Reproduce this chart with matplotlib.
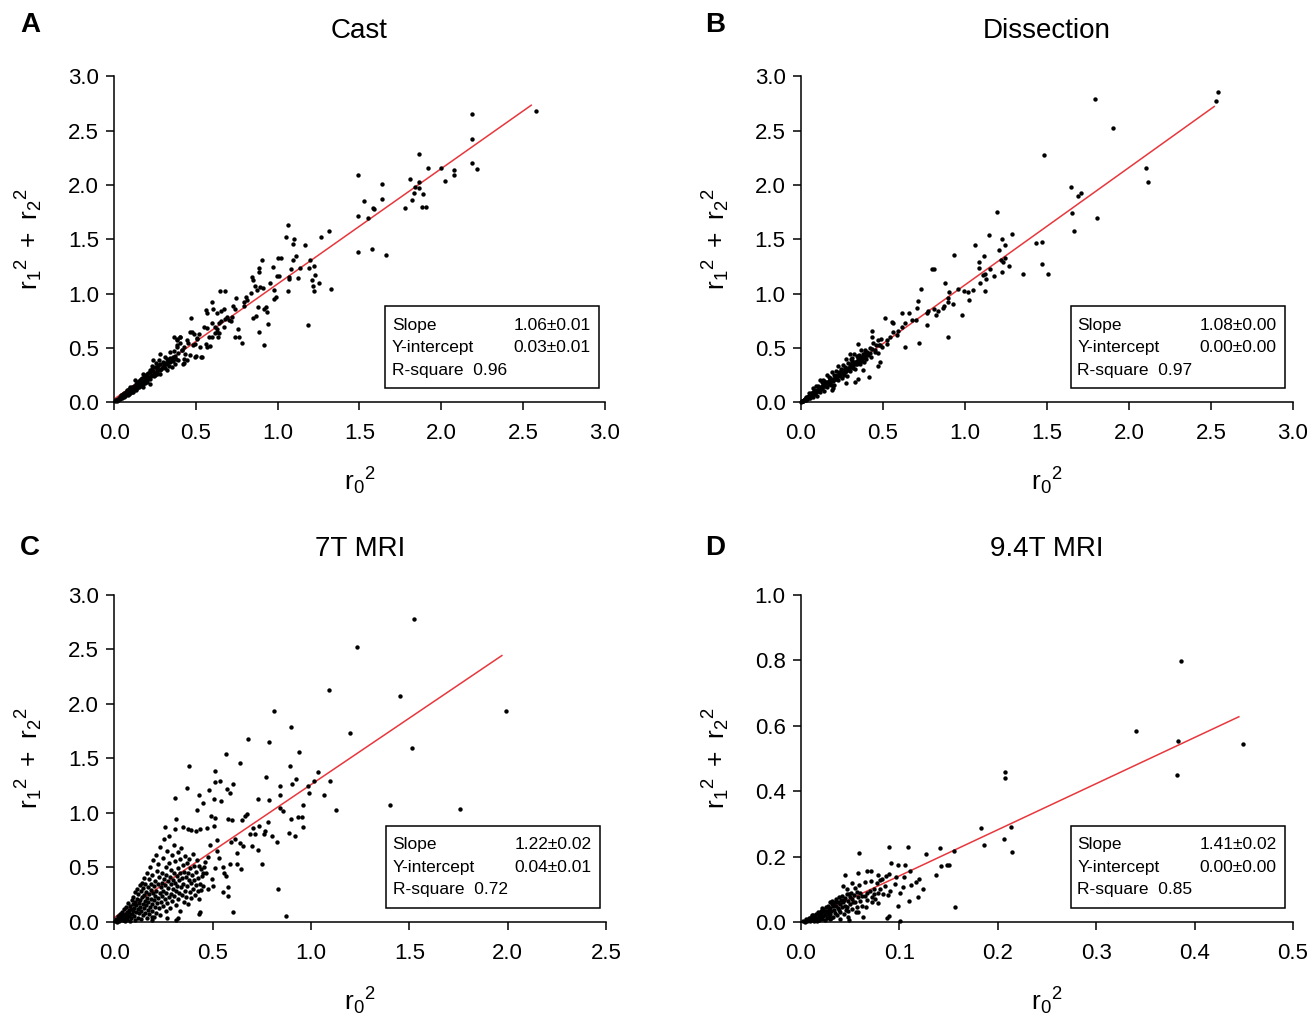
import numpy as np
import matplotlib
matplotlib.use("Agg")
import matplotlib.pyplot as plt
from matplotlib.patches import Rectangle

plt.rcParams.update({
    "font.family": ["Liberation Sans", "DejaVu Sans"],
    "mathtext.fontset": "custom",
    "mathtext.rm": "Liberation Sans",
    "mathtext.it": "Liberation Sans",
})

# ---------------------------------------------------------------- data
# (r0^2, r1^2 + r2^2) pairs
cast_points = [
    # dense part near the origin
    (0.005, 0.01), (0.012, 0.021), (0.016, 0.009), (0.021, 0.032), (0.026, 0.018), (0.031, 0.043),
    (0.036, 0.028), (0.041, 0.052), (0.039, 0.063), (0.046, 0.038), (0.052, 0.072), (0.049, 0.049),
    (0.057, 0.061), (0.061, 0.083), (0.063, 0.052), (0.066, 0.071), (0.072, 0.094), (0.069, 0.058),
    (0.076, 0.082), (0.081, 0.104), (0.083, 0.068), (0.086, 0.092), (0.091, 0.122), (0.093, 0.081),
    (0.097, 0.103), (0.102, 0.134), (0.099, 0.088), (0.106, 0.113), (0.112, 0.143), (0.109, 0.098),
    (0.116, 0.124), (0.121, 0.153), (0.118, 0.108), (0.126, 0.142), (0.131, 0.173), (0.133, 0.117),
    (0.136, 0.143), (0.142, 0.184), (0.138, 0.128), (0.147, 0.163), (0.151, 0.194), (0.153, 0.137),
    (0.156, 0.172), (0.162, 0.213), (0.158, 0.148), (0.166, 0.183), (0.171, 0.224), (0.173, 0.158),
    (0.176, 0.193), (0.182, 0.232), (0.178, 0.168), (0.186, 0.204), (0.192, 0.252), (0.188, 0.177),
    (0.197, 0.213), (0.202, 0.263), (0.199, 0.188), (0.211, 0.232), (0.208, 0.274), (0.222, 0.218),
    (0.218, 0.283), (0.231, 0.253), (0.229, 0.304), (0.242, 0.238), (0.238, 0.292), (0.251, 0.272),
    (0.248, 0.324), (0.262, 0.258), (0.259, 0.313), (0.271, 0.293), (0.268, 0.343), (0.282, 0.302),
    (0.279, 0.354), (0.291, 0.313), (0.302, 0.334), (0.298, 0.372), (0.311, 0.318), (0.309, 0.363),
    (0.322, 0.352), (0.331, 0.384), (0.333, 0.338), (0.342, 0.372), (0.351, 0.403), (0.362, 0.383),
    (0.372, 0.424), (0.381, 0.402), (0.014, 0.018), (0.035, 0.049), (0.055, 0.08), (0.076, 0.11),
    (0.096, 0.141), (0.117, 0.095), (0.127, 0.202), (0.137, 0.156), (0.157, 0.202),
    (0.178, 0.141), (0.178, 0.264), (0.198, 0.233), (0.219, 0.172), (0.219, 0.294),
    (0.239, 0.387), (0.25, 0.248), (0.26, 0.325), (0.28, 0.264), (0.28, 0.448),
    (0.30, 0.325), (0.311, 0.417), (0.321, 0.294), (0.331, 0.371), (0.342, 0.463),
    (0.352, 0.325), (0.362, 0.417), (0.372, 0.356), (0.382, 0.509), (0.382, 0.586),
    (0.393, 0.387), (0.40, 0.60), (0.413, 0.479), (0.423, 0.356), (0.434, 0.448),
    (0.444, 0.387), (0.444, 0.57), (0.464, 0.433), (0.474, 0.647), (0.485, 0.525),
    (0.495, 0.417), (0.505, 0.586), (0.536, 0.417), (0.56, 0.54), (0.566, 0.509),
    (0.597, 0.601), (0.628, 0.647), (0.669, 0.693), (0.70, 0.755),
    (0.403, 0.598), (0.366, 0.598), (0.382, 0.573), (0.403, 0.542), (0.454, 0.542),
    (0.427, 0.512), (0.382, 0.527), (0.413, 0.481), (0.393, 0.45), (0.429, 0.359),
    (0.427, 0.398), (0.499, 0.426), (0.532, 0.42), (0.47, 0.772), (0.464, 0.65),
    (0.491, 0.628), (0.505, 0.591), (0.517, 0.625), (0.497, 0.536), (0.525, 0.506),
    (0.044, 0.047), (0.064, 0.068), (0.084, 0.089), (0.104, 0.112), (0.124, 0.133),
    (0.144, 0.154), (0.164, 0.176), (0.184, 0.197), (0.204, 0.218), (0.224, 0.241),
    (0.244, 0.262), (0.264, 0.284), (0.284, 0.306), (0.304, 0.356), (0.324, 0.398),
    (0.344, 0.41), (0.364, 0.47), (0.234, 0.33), (0.254, 0.36), (0.274, 0.39),
    # middle
    (0.648, 1.027), (0.679, 1.027), (0.599, 0.922), (0.748, 0.956), (0.804, 0.965),
    (0.795, 0.92), (0.812, 0.94), (0.791, 0.886), (0.728, 0.886), (0.736, 0.855),
    (0.669, 0.855), (0.652, 0.837), (0.626, 0.824), (0.607, 0.858), (0.564, 0.849),
    (0.566, 0.818), (0.689, 0.788), (0.677, 0.763), (0.718, 0.781), (0.714, 0.748),
    (0.654, 0.748), (0.644, 0.726), (0.616, 0.696), (0.628, 0.671), (0.599, 0.726),
    (0.566, 0.68), (0.552, 0.696), (0.617, 0.64), (0.64, 0.64), (0.638, 0.604),
    (0.736, 0.604), (0.761, 0.604), (0.783, 0.549), (0.757, 0.674), (0.577, 0.604),
    (0.583, 0.521),
    (1.018, 1.33), (1.002, 1.33), (0.971, 1.247), (0.996, 1.16), (1.008, 1.158),
    (0.953, 1.10), (0.902, 1.31), (0.883, 1.232), (0.885, 1.20), (0.845, 1.155),
    (0.849, 1.128), (0.894, 1.063), (0.912, 1.048), (0.859, 1.07), (0.873, 1.036),
    (0.838, 1.008), (0.975, 1.033), (0.987, 0.965), (0.98, 0.947), (0.928, 0.88),
    (0.914, 0.855), (0.935, 0.83), (0.877, 0.88), (0.865, 0.794), (0.85, 0.78),
    (0.94, 0.717), (0.883, 0.644), (0.918, 0.524),
    (1.06, 1.63), (1.053, 1.517), (1.10, 1.50), (1.094, 1.456), (1.166, 1.45),
    (1.266, 1.517), (1.313, 1.58), (1.112, 1.35), (1.094, 1.31), (1.20, 1.305),
    (1.135, 1.24), (1.19, 1.24), (1.082, 1.223), (1.221, 1.253), (1.072, 1.15),
    (1.125, 1.143), (1.07, 1.134), (1.231, 1.17), (1.21, 1.125), (1.254, 1.10),
    (1.215, 1.067), (1.221, 1.024), (1.061, 1.024), (1.323, 1.045), (1.188, 0.711),
    # upper part
    (1.49, 2.09), (1.64, 2.01), (1.527, 1.85), (1.64, 1.87), (1.58, 1.79), (1.59, 1.78),
    (1.49, 1.71), (1.55, 1.695), (1.49, 1.38), (1.577, 1.41), (1.665, 1.355),
    (1.865, 2.28), (1.92, 2.16), (2.00, 2.16), (2.075, 2.14), (2.075, 2.09), (2.02, 2.04),
    (1.81, 2.05), (1.84, 1.98), (1.865, 2.03), (1.865, 1.97), (1.835, 1.93), (1.89, 1.92),
    (1.82, 1.86), (1.88, 1.80), (1.905, 1.80), (1.78, 1.79),
    (2.577, 2.68), (2.19, 2.65), (2.19, 2.42), (2.19, 2.20), (2.22, 2.15),
]

dissection_points = [
    # dense band near the origin
    (0.007, 0.010), (0.012, 0.009), (0.016, 0.025), (0.021, 0.023), (0.025, 0.024), (0.029, 0.051),
    (0.033, 0.023), (0.038, 0.052), (0.042, 0.049), (0.046, 0.041), (0.051, 0.083), (0.055, 0.037),
    (0.059, 0.088), (0.063, 0.062), (0.067, 0.085), (0.071, 0.134), (0.076, 0.052), (0.080, 0.110),
    (0.084, 0.099), (0.088, 0.077), (0.092, 0.154), (0.097, 0.056), (0.101, 0.149), (0.105, 0.103),
    (0.109, 0.138), (0.114, 0.203), (0.118, 0.097), (0.122, 0.132), (0.126, 0.186), (0.131, 0.121),
    (0.135, 0.206), (0.139, 0.100), (0.143, 0.194), (0.148, 0.150), (0.152, 0.184), (0.156, 0.248),
    (0.160, 0.143), (0.165, 0.178), (0.169, 0.233), (0.173, 0.167), (0.177, 0.221), (0.182, 0.207),
    (0.186, 0.161), (0.190, 0.275), (0.194, 0.200), (0.199, 0.255), (0.203, 0.159), (0.207, 0.244),
    (0.211, 0.288), (0.216, 0.213), (0.220, 0.248), (0.224, 0.332), (0.228, 0.206), (0.233, 0.282),
    (0.237, 0.246), (0.241, 0.310), (0.246, 0.266), (0.250, 0.220), (0.254, 0.344), (0.258, 0.299),
    (0.263, 0.254), (0.267, 0.328), (0.271, 0.283), (0.275, 0.397), (0.280, 0.242), (0.284, 0.317),
    (0.288, 0.361), (0.292, 0.295), (0.297, 0.351), (0.301, 0.285), (0.305, 0.399), (0.309, 0.334),
    (0.314, 0.379), (0.318, 0.313), (0.322, 0.368), (0.326, 0.442), (0.331, 0.307), (0.335, 0.372),
    (0.339, 0.426), (0.343, 0.350), (0.348, 0.406), (0.352, 0.370), (0.356, 0.434), (0.361, 0.350),
    (0.365, 0.414), (0.369, 0.479), (0.373, 0.383), (0.378, 0.448), (0.382, 0.413), (0.386, 0.367),
    (0.390, 0.481), (0.395, 0.437), (0.399, 0.401), (0.404, 0.466), (0.411, 0.434), (0.418, 0.501),
    (0.426, 0.420), (0.433, 0.488), (0.441, 0.546), (0.449, 0.465), (0.458, 0.525), (0.467, 0.454),
    (0.476, 0.524), (0.486, 0.585), (0.496, 0.506),
    (0.003, 0.004), (0.009, 0.014), (0.014, 0.012), (0.018, 0.017), (0.023, 0.031), (0.027, 0.027),
    (0.031, 0.036), (0.036, 0.035), (0.040, 0.047), (0.044, 0.051), (0.048, 0.050), (0.053, 0.062),
    (0.057, 0.058), (0.061, 0.071), (0.065, 0.073), (0.069, 0.068), (0.074, 0.087), (0.078, 0.081),
    (0.082, 0.093), (0.086, 0.096), (0.090, 0.094), (0.095, 0.108), (0.099, 0.112), (0.103, 0.117),
    (0.107, 0.113), (0.112, 0.127), (0.116, 0.131), (0.120, 0.136), (0.124, 0.128), (0.128, 0.146),
    (0.133, 0.147), (0.137, 0.155), (0.141, 0.152), (0.146, 0.167), (0.150, 0.159), (0.154, 0.172),
    (0.158, 0.177), (0.163, 0.169), (0.167, 0.188), (0.171, 0.193), (0.175, 0.183), (0.180, 0.201),
    (0.184, 0.204), (0.188, 0.195), (0.196, 0.219), (0.205, 0.218), (0.214, 0.238), (0.222, 0.234),
    (0.231, 0.262), (0.239, 0.253), (0.248, 0.276), (0.256, 0.271), (0.265, 0.292), (0.273, 0.289),
    (0.282, 0.309), (0.290, 0.318), (0.299, 0.322), (0.307, 0.338), (0.316, 0.341), (0.324, 0.357),
    (0.333, 0.352), (0.341, 0.376), (0.350, 0.384), (0.358, 0.381), (0.367, 0.402), (0.375, 0.398),
    (0.384, 0.421), (0.392, 0.419),
    (0.193, 0.131), (0.189, 0.116), (0.275, 0.177), (0.329, 0.183), (0.35, 0.214),
    (0.415, 0.229), (0.378, 0.296), (0.472, 0.33), (0.482, 0.367), (0.311, 0.412),
    (0.299, 0.443), (0.35, 0.535), (0.39, 0.467), (0.421, 0.452), (0.451, 0.477),
    (0.482, 0.529), (0.472, 0.574), (0.431, 0.605), (0.431, 0.66), (0.523, 0.538),
    (0.523, 0.574),
    # middle
    (0.543, 0.605), (0.584, 0.62), (0.563, 0.651), (0.592, 0.66), (0.618, 0.697),
    (0.637, 0.727), (0.555, 0.742), (0.563, 0.727), (0.515, 0.779), (0.616, 0.819),
    (0.657, 0.819), (0.675, 0.758), (0.702, 0.758), (0.771, 0.715), (0.718, 0.55),
    (0.635, 0.507), (0.897, 0.599), (0.706, 0.865), (0.716, 0.935), (0.767, 0.819),
    (0.822, 0.804), (0.775, 0.843), (0.809, 0.855), (0.838, 0.843), (0.864, 0.865),
    (0.93, 0.901), (0.874, 0.889), (0.897, 0.926), (0.897, 0.959), (0.982, 0.807),
    (1.023, 0.941), (1.047, 1.033), (1.021, 1.017), (0.997, 1.027), (0.901, 1.017),
    (0.956, 1.039), (0.732, 1.039), (0.879, 1.094), (0.799, 1.225), (0.809, 1.225),
    (0.936, 1.357),
    (1.196, 1.748), (1.149, 1.543), (1.285, 1.549), (1.228, 1.50), (1.241, 1.448),
    (1.064, 1.451), (1.21, 1.399), (1.118, 1.344), (1.086, 1.295), (1.22, 1.305),
    (1.245, 1.326), (1.23, 1.295), (1.086, 1.234), (1.153, 1.222), (1.271, 1.25),
    (1.125, 1.185), (1.108, 1.17), (1.177, 1.164), (1.228, 1.195), (1.094, 1.094),
    (1.125, 1.027), (1.129, 1.134),
    # upper part
    (1.434, 1.467), (1.468, 1.479), (1.468, 1.271), (1.507, 1.182), (1.354, 1.179),
    (1.483, 2.273), (1.645, 1.977), (1.708, 1.928), (1.692, 1.894), (1.651, 1.745),
    (1.806, 1.693), (1.664, 1.573), (1.794, 2.789), (1.902, 2.527), (2.101, 2.157),
    (2.119, 2.023), (2.542, 2.857), (2.532, 2.771),
]

mri7_points = [
    # fan-shaped dense part
    (0.004, 0.012), (0.009, 0.031), (0.013, 0.004), (0.017, 0.022), (0.019, 0.058), (0.024, 0.037),
    (0.027, 0.011), (0.031, 0.069), (0.034, 0.027), (0.036, 0.048), (0.041, 0.091), (0.044, 0.016),
    (0.047, 0.062), (0.049, 0.038), (0.052, 0.117), (0.054, 0.074), (0.057, 0.009), (0.059, 0.046),
    (0.062, 0.138), (0.064, 0.091), (0.067, 0.027), (0.069, 0.063), (0.071, 0.172), (0.073, 0.109),
    (0.076, 0.051), (0.078, 0.082), (0.081, 0.006), (0.083, 0.147), (0.086, 0.119), (0.087, 0.038),
    (0.089, 0.204), (0.092, 0.071), (0.094, 0.163), (0.096, 0.098), (0.098, 0.232), (0.101, 0.057),
    (0.103, 0.128), (0.105, 0.271), (0.106, 0.187), (0.108, 0.016), (0.111, 0.094), (0.113, 0.152),
    (0.115, 0.301), (0.117, 0.214), (0.119, 0.041), (0.121, 0.118), (0.123, 0.256), (0.125, 0.172),
    (0.127, 0.079), (0.129, 0.337), (0.131, 0.201), (0.133, 0.138), (0.135, 0.024), (0.137, 0.283),
    (0.139, 0.098), (0.141, 0.229), (0.143, 0.362), (0.145, 0.167), (0.147, 0.062), (0.149, 0.312),
    (0.151, 0.124), (0.152, 0.246), (0.154, 0.407), (0.156, 0.193), (0.158, 0.087), (0.159, 0.351),
    (0.161, 0.152), (0.163, 0.276), (0.165, 0.034), (0.166, 0.223), (0.168, 0.448), (0.171, 0.112),
    (0.172, 0.318), (0.174, 0.184), (0.176, 0.257), (0.178, 0.392), (0.179, 0.071), (0.181, 0.141),
    (0.183, 0.502), (0.185, 0.297), (0.187, 0.212), (0.188, 0.346), (0.191, 0.103), (0.193, 0.169),
    (0.194, 0.431), (0.196, 0.262), (0.198, 0.566), (0.201, 0.198), (0.203, 0.327), (0.204, 0.044),
    (0.206, 0.136), (0.208, 0.378), (0.209, 0.241), (0.212, 0.617), (0.214, 0.087), (0.215, 0.289),
    (0.217, 0.472), (0.219, 0.176), (0.221, 0.352), (0.223, 0.221), (0.225, 0.528), (0.226, 0.124),
    (0.228, 0.416), (0.231, 0.264), (0.232, 0.692), (0.234, 0.062), (0.236, 0.318), (0.238, 0.187),
    (0.241, 0.453), (0.242, 0.362), (0.244, 0.238), (0.246, 0.589), (0.248, 0.143), (0.249, 0.284),
    (0.252, 0.397), (0.254, 0.759), (0.256, 0.208), (0.258, 0.336), (0.261, 0.503), (0.263, 0.097),
    (0.264, 0.268), (0.266, 0.431), (0.268, 0.648), (0.271, 0.173), (0.273, 0.372), (0.275, 0.308),
    (0.277, 0.542), (0.279, 0.227), (0.281, 0.792), (0.283, 0.414), (0.285, 0.128), (0.287, 0.346),
    (0.289, 0.261), (0.291, 0.478), (0.293, 0.613), (0.295, 0.196), (0.297, 0.387), (0.299, 0.303),
    (0.302, 0.709), (0.304, 0.452), (0.306, 0.237), (0.308, 0.362), (0.311, 0.558), (0.313, 0.154),
    (0.315, 0.283), (0.317, 0.421), (0.319, 0.327), (0.322, 0.642), (0.324, 0.212), (0.326, 0.493),
    (0.328, 0.381), (0.331, 0.268), (0.333, 0.102), (0.335, 0.447), (0.337, 0.574), (0.339, 0.318),
    (0.342, 0.683), (0.344, 0.247), (0.346, 0.401), (0.348, 0.522), (0.351, 0.352), (0.353, 0.187),
    (0.356, 0.463), (0.358, 0.286), (0.361, 0.604), (0.363, 0.409), (0.366, 0.232), (0.368, 0.537),
    (0.371, 0.331), (0.374, 0.448), (0.377, 0.163), (0.379, 0.382), (0.382, 0.576), (0.384, 0.276),
    (0.387, 0.492), (0.391, 0.354), (0.393, 0.218), (0.396, 0.427), (0.399, 0.621), (0.402, 0.302),
    (0.405, 0.514), (0.408, 0.386), (0.412, 0.247), (0.415, 0.457), (0.418, 0.338), (0.421, 0.573),
    (0.425, 0.284), (0.428, 0.402), (0.432, 0.211), (0.436, 0.352), (0.439, 0.483), (0.443, 0.293),
    (0.447, 0.418), (0.452, 0.331), (0.457, 0.502),
    # scattered part
    (1.525, 2.78), (1.233, 2.52), (1.092, 2.131), (1.452, 2.076), (0.814, 1.939),
    (1.99, 1.933), (0.901, 1.792), (1.196, 1.737), (0.682, 1.676), (0.785, 1.648),
    (1.511, 1.599), (0.938, 1.557), (0.566, 1.541), (0.639, 1.459), (0.382, 1.434),
    (0.896, 1.428), (0.511, 1.388), (1.035, 1.379), (0.77, 1.333), (0.512, 1.281),
    (0.538, 1.297), (0.606, 1.269), (0.924, 1.312), (0.843, 1.251), (0.902, 1.269),
    (1.014, 1.297), (1.097, 1.297), (0.985, 1.245), (0.992, 1.18), (0.371, 1.232),
    (0.482, 1.208), (0.572, 1.22), (0.587, 1.183), (1.065, 1.165), (0.843, 1.168),
    (0.431, 1.165), (0.31, 1.141), (0.733, 1.131), (0.785, 1.122), (0.506, 1.125),
    (0.543, 1.113), (0.451, 1.092), (0.962, 1.07), (1.404, 1.07), (1.759, 1.037),
    (1.128, 1.031), (0.843, 1.049), (0.86, 1.021), (0.42, 1.024), (0.493, 0.976),
    (0.514, 0.951), (0.58, 0.945), (0.597, 0.939), (0.675, 0.988), (0.667, 0.972),
    (0.65, 0.933), (0.314, 0.942), (0.899, 0.948), (0.933, 0.96), (0.955, 0.96),
    (0.958, 0.875), (0.258, 0.872), (0.309, 0.853), (0.348, 0.868), (0.377, 0.853),
    (0.393, 0.841), (0.414, 0.838), (0.438, 0.853), (0.473, 0.862), (0.509, 0.878),
    (0.704, 0.865), (0.738, 0.878), (0.768, 0.832), (0.783, 0.917), (0.802, 0.792),
    (0.763, 0.81), (0.717, 0.81), (0.692, 0.81), (0.889, 0.817), (0.919, 0.786),
    (0.826, 0.731), (0.614, 0.761), (0.595, 0.731), (0.64, 0.725), (0.622, 0.633),
    (0.656, 0.694), (0.702, 0.694), (0.733, 0.664), (0.59, 0.535), (0.624, 0.535),
    (0.643, 0.486), (0.753, 0.532), (0.554, 0.505), (0.512, 0.495), (0.56, 0.45),
    (0.567, 0.425), (0.578, 0.324), (0.551, 0.272), (0.578, 0.235), (0.50, 0.327),
    (0.453, 0.45), (0.469, 0.45), (0.433, 0.511), (0.831, 0.303), (0.602, 0.089),
    (0.873, 0.058), (0.431, 0.076), (0.438, 0.092), (0.324, 0.04), (0.312, 0.021),
    (0.271, 0.04), (0.19, 0.046), (0.193, 0.015),
    (0.478, 0.598), (0.487, 0.702), (0.523, 0.648), (0.462, 0.547), (0.532, 0.583),
    (0.498, 0.392), (0.476, 0.302), (0.521, 0.752),
]

mri94_points = [
    # dense part near the origin
    (0.002, 0.003), (0.004, 0.0), (0.005, 0.008), (0.006, 0.004), (0.008, 0.012), (0.009, 0.002),
    (0.01, 0.015), (0.01, 0.006), (0.012, 0.01), (0.012, 0.02), (0.013, 0.003), (0.014, 0.016),
    (0.015, 0.025), (0.015, 0.008), (0.016, 0.012), (0.017, 0.03), (0.018, 0.02), (0.018, 0.005),
    (0.019, 0.014), (0.02, 0.035), (0.02, 0.025), (0.021, 0.01), (0.022, 0.018), (0.022, 0.04),
    (0.023, 0.03), (0.024, 0.005), (0.024, 0.022), (0.025, 0.045), (0.025, 0.035), (0.026, 0.012),
    (0.027, 0.028), (0.027, 0.05), (0.028, 0.038), (0.028, 0.018), (0.029, 0.06), (0.03, 0.043),
    (0.03, 0.025), (0.03, 0.008), (0.031, 0.033), (0.032, 0.055), (0.032, 0.065), (0.033, 0.048),
    (0.033, 0.015), (0.034, 0.038), (0.035, 0.06), (0.035, 0.028), (0.036, 0.07), (0.036, 0.05),
    (0.037, 0.02), (0.038, 0.042), (0.038, 0.062), (0.039, 0.075), (0.04, 0.055), (0.04, 0.032),
    (0.04, 0.01), (0.041, 0.068), (0.042, 0.045), (0.042, 0.08), (0.043, 0.06), (0.044, 0.025),
    (0.045, 0.072), (0.045, 0.05), (0.046, 0.038), (0.047, 0.085), (0.048, 0.065), (0.048, 0.015),
    (0.05, 0.078), (0.05, 0.055), (0.052, 0.04), (0.052, 0.07), (0.054, 0.082), (0.055, 0.06),
    (0.056, 0.03), (0.058, 0.075), (0.06, 0.065), (0.06, 0.088), (0.062, 0.05), (0.065, 0.08),
    (0.067, 0.068), (0.07, 0.095), (0.072, 0.075), (0.075, 0.07), (0.078, 0.09), (0.08, 0.10),
    (0.083, 0.085), (0.085, 0.11), (0.09, 0.095),
    (0.011, 0.022), (0.016, 0.004), (0.021, 0.042), (0.026, 0.024), (0.031, 0.012), (0.034, 0.052),
    (0.039, 0.036), (0.044, 0.066), (0.047, 0.046), (0.051, 0.088), (0.053, 0.062), (0.057, 0.045),
    # scattered part
    (0.067, 0.157), (0.071, 0.157), (0.058, 0.149), (0.045, 0.144), (0.078, 0.145),
    (0.082, 0.132), (0.086, 0.141), (0.08, 0.127), (0.077, 0.118), (0.071, 0.125),
    (0.065, 0.123), (0.059, 0.112), (0.055, 0.104), (0.067, 0.09), (0.074, 0.086),
    (0.078, 0.059), (0.072, 0.061), (0.066, 0.046), (0.063, 0.016), (0.058, 0.031),
    (0.049, 0.005), (0.048, 0.034), (0.043, 0.111), (0.052, 0.118), (0.057, 0.092),
    (0.049, 0.085), (0.062, 0.079), (0.047, 0.10), (0.074, 0.102),
    (0.091, 0.179), (0.099, 0.174), (0.106, 0.173), (0.111, 0.156), (0.12, 0.132),
    (0.117, 0.122), (0.112, 0.114), (0.105, 0.137), (0.097, 0.137), (0.096, 0.117),
    (0.089, 0.148), (0.088, 0.084), (0.101, 0.09), (0.104, 0.108), (0.124, 0.10),
    (0.119, 0.077), (0.11, 0.063), (0.099, 0.049), (0.101, 0.003), (0.087, 0.013),
    (0.089, 0.018), (0.15, 0.175), (0.148, 0.174), (0.142, 0.171), (0.137, 0.145),
    (0.156, 0.216), (0.157, 0.047), (0.141, 0.226), (0.127, 0.207), (0.109, 0.229),
    (0.089, 0.229), (0.059, 0.21),
    (0.183, 0.288), (0.186, 0.235), (0.213, 0.291), (0.206, 0.253), (0.214, 0.214),
    (0.207, 0.46), (0.207, 0.439),
    (0.386, 0.799), (0.34, 0.583), (0.383, 0.552), (0.449, 0.545), (0.382, 0.45),
]

titles = ["Cast", "Dissection", "7T MRI", "9.4T MRI"]
letters = ["A", "B", "C", "D"]
slopes = [1.06, 1.08, 1.22, 1.41]
intercepts = [0.03, 0.00, 0.04, 0.00]
fit_x_end = [2.55, 2.52, 1.97, 0.445]
slope_text = ["1.06\u00b10.01", "1.08\u00b10.00", "1.22\u00b10.02", "1.41\u00b10.02"]
intercept_text = ["0.03\u00b10.01", "0.00\u00b10.00", "0.04\u00b10.01", "0.00\u00b10.00"]
rsquare_text = ["0.96", "0.97", "0.72", "0.85"]
x_limits = [3.0, 3.0, 2.5, 0.5]
y_limits = [3.0, 3.0, 3.0, 1.0]
x_steps = [0.5, 0.5, 0.5, 0.1]
y_steps = [0.5, 0.5, 0.5, 0.2]

all_points = [cast_points, dissection_points, mri7_points, mri94_points]

# ---------------------------------------------------------------- figure
fig = plt.figure(figsize=(13.12, 10.16), dpi=100)

axes_rects = [
    [0.087, 0.604, 0.374, 0.321],
    [0.6105, 0.604, 0.375, 0.321],
    [0.087, 0.0925, 0.375, 0.322],
    [0.6105, 0.0925, 0.375, 0.322],
]
letter_pos = [(0.023, 0.975), (0.545, 0.975), (0.023, 0.461), (0.545, 0.461)]

red = "#e8373c"

for i, rect in enumerate(axes_rects):
    ax = fig.add_axes(rect)
    px, py = zip(*all_points[i])

    xs = np.array([0.0, fit_x_end[i]])
    ax.plot(xs, slopes[i] * xs + intercepts[i], color=red, lw=1.1, zorder=2)
    ax.scatter(px, py, s=10, color="black", linewidths=0, zorder=3, clip_on=False)

    ax.set_xlim(0, x_limits[i])
    ax.set_ylim(0, y_limits[i])
    ax.set_xticks(np.arange(0, x_limits[i] + 1e-9, x_steps[i]))
    ax.set_yticks(np.arange(0, y_limits[i] + 1e-9, y_steps[i]))
    ax.xaxis.set_major_formatter(plt.FormatStrFormatter("%.1f"))
    ax.yaxis.set_major_formatter(plt.FormatStrFormatter("%.1f"))

    for s in ["top", "right"]:
        ax.spines[s].set_visible(False)
    for s in ["left", "bottom"]:
        ax.spines[s].set_linewidth(1.1)
    ax.tick_params(direction="out", length=6, width=1.1, labelsize=16, pad=5)
    ax.tick_params(axis="x", pad=9)

    ax.set_xlabel(r"$\mathregular{r_0{}^2}$", fontsize=19)
    ax.set_ylabel(r"$\mathregular{r_1{}^2\ +\ r_2{}^2}$", fontsize=19)
    ax.xaxis.set_label_coords(0.5, -0.195)
    ax.yaxis.set_label_coords(-0.14, 0.5)

    ax.text(0.5, 1.14, titles[i], transform=ax.transAxes, ha="center",
            va="center", fontsize=20)
    fig.text(letter_pos[i][0], letter_pos[i][1], letters[i], fontsize=20,
             fontweight="bold", ha="center", va="center")

    # stats box
    bx0 = 0.553 if i % 2 == 0 else 0.549
    box = Rectangle((bx0, 0.043), 0.435, 0.251, transform=ax.transAxes,
                    fill=False, edgecolor="black", lw=1.1, zorder=4)
    ax.add_patch(box)
    tx_l = bx0 + 0.013
    tx_r = bx0 + 0.418
    rows_y = [0.237, 0.168, 0.098]
    fs = 12.5
    ax.text(tx_l, rows_y[0], "Slope", transform=ax.transAxes, fontsize=fs, va="center")
    ax.text(tx_r, rows_y[0], slope_text[i], transform=ax.transAxes, fontsize=fs,
            va="center", ha="right")
    ax.text(tx_l, rows_y[1], "Y-intercept", transform=ax.transAxes, fontsize=fs, va="center")
    ax.text(tx_r, rows_y[1], intercept_text[i], transform=ax.transAxes, fontsize=fs,
            va="center", ha="right")
    ax.text(tx_l, rows_y[2], "R-square  " + rsquare_text[i], transform=ax.transAxes,
            fontsize=fs, va="center")

fig.savefig("out.png", dpi=100)
